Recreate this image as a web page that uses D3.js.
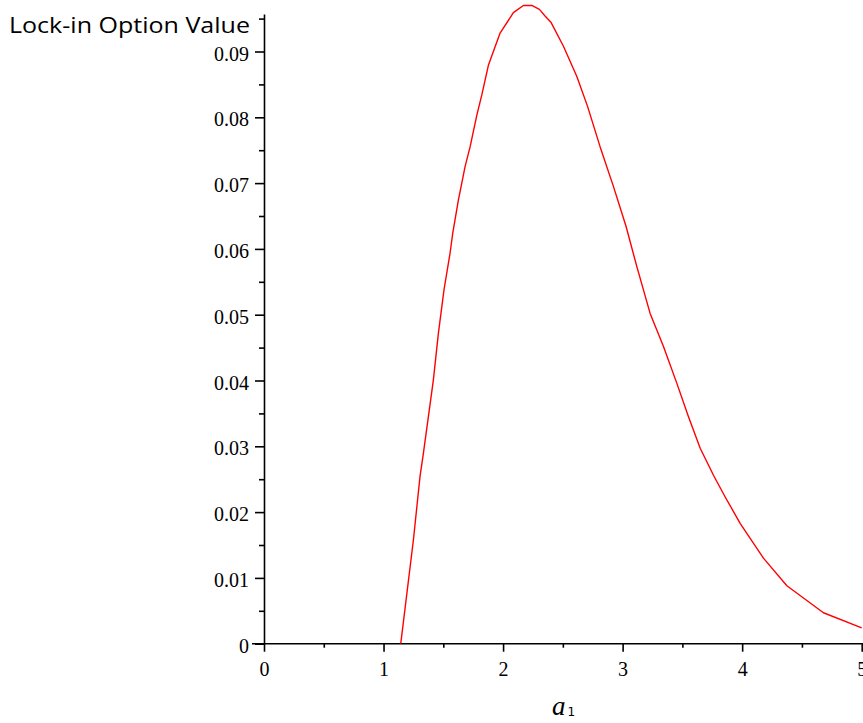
<!DOCTYPE html>
<html>
<head>
<meta charset="utf-8">
<script src="https://cdn.jsdelivr.net/npm/d3@7"></script>
<style>
  body { margin: 0; background: #fff; }
  svg { display: block; }
</style>
</head>
<body>
<svg id="chart" width="863" height="723"></svg>
<script>
// curve
const a1 = [1.144, 1.25, 1.305, 1.333, 1.417, 1.459, 1.506, 1.556, 1.579, 1.626,
  1.682, 1.724, 1.78, 1.822, 1.877, 1.975, 2.086, 2.17, 2.24, 2.304,
  2.351, 2.402, 2.505, 2.617, 2.706, 2.812, 2.923, 3.029, 3.119, 3.23,
  3.341, 3.453, 3.551, 3.649, 3.76, 3.858, 3.983, 4.178, 4.374, 4.68, 5.0];
const lockIn = [0, 0.0158, 0.0254, 0.0289, 0.0401, 0.0472, 0.0538, 0.0593, 0.0624, 0.0674,
  0.0725, 0.0755, 0.0803, 0.0834, 0.0879, 0.0928, 0.0959, 0.097, 0.097, 0.0964,
  0.0954, 0.0944, 0.0908, 0.0862, 0.0817, 0.0755, 0.0695, 0.0634, 0.0573, 0.0502,
  0.0452, 0.0396, 0.0345, 0.0297, 0.0256, 0.0223, 0.0183, 0.013, 0.0088, 0.0047, 0.0024];

const xMajor = [0, 1, 2, 3, 4, 5];
const xMinor = [0.5, 1.5, 2.5, 3.5, 4.5];
const yMajor = [0, 0.01, 0.02, 0.03, 0.04, 0.05, 0.06, 0.07, 0.08, 0.09];
const yMinor = [0.005, 0.015, 0.025, 0.035, 0.045, 0.055, 0.065, 0.075, 0.085, 0.095];

const svg = d3.select('#chart');

const x = d3.scaleLinear().domain([0, 5]).range([264, 861.7]);
const y = d3.scaleLinear().domain([0, 0.0957]).range([643.7, 14]);

const serif = 'Liberation Serif, Times New Roman, serif';

// x axis
const xAxis = svg.append('g')
  .attr('transform', `translate(0,${y(0)})`)
  .call(d3.axisBottom(x).tickValues(xMajor).tickSize(8).tickSizeOuter(0).tickFormat(d3.format('d')));
xAxis.select('.domain').attr('d', `M252,0H863`);
xAxis.selectAll('text')
  .attr('y', 32).attr('dy', 0)
  .attr('font-family', serif).attr('font-size', '20px').attr('fill', '#000');

svg.append('g')
  .attr('transform', `translate(0,${y(0)})`)
  .call(d3.axisBottom(x).tickValues(xMinor).tickSize(4).tickSizeOuter(0).tickFormat(''))
  .select('.domain').remove();

// y axis
const yAxis = svg.append('g')
  .attr('transform', `translate(${x(0)},0)`)
  .call(d3.axisLeft(y).tickValues(yMajor).tickSize(9).tickSizeOuter(0)
    .tickFormat(d => d === 0 ? '0' : d3.format('.2f')(d)));
yAxis.selectAll('text')
  .attr('x', -15).attr('dy', 0).attr('y', 8.5)
  .attr('font-family', serif).attr('font-size', '20px').attr('fill', '#000');

svg.append('g')
  .attr('transform', `translate(${x(0)},0)`)
  .call(d3.axisLeft(y).tickValues(yMinor).tickSize(5).tickSizeOuter(0).tickFormat(''))
  .select('.domain').remove();

svg.selectAll('.domain, .tick line').attr('stroke', '#000').attr('stroke-width', 1.6);

// curve
const pts = a1.map((v, i) => [v, lockIn[i]]);
svg.append('path')
  .datum(pts)
  .attr('fill', 'none')
  .attr('stroke', '#ff0000')
  .attr('stroke-width', 1.4)
  .attr('stroke-linejoin', 'round')
  .attr('d', d3.line().x(d => x(d[0])).y(d => y(d[1])));

// labels
svg.append('text')
  .attr('x', 9).attr('y', 32.5)
  .attr('font-family', 'Open Sans, sans-serif')
  .attr('font-size', '22px')
  .attr('textLength', 241)
  .attr('lengthAdjust', 'spacingAndGlyphs')
  .attr('fill', '#000')
  .text('Lock-in Option Value');

const xl = svg.append('text')
  .attr('x', 552).attr('y', 714.5)
  .attr('font-family', serif)
  .attr('fill', '#000');
xl.append('tspan').attr('font-style', 'italic').attr('font-size', '27px').text('a');
xl.append('tspan').attr('font-family', 'DejaVu Sans, sans-serif').attr('font-size', '12px').attr('dx', 2).attr('dy', 1.5).text('1');
</script>
</body>
</html>
